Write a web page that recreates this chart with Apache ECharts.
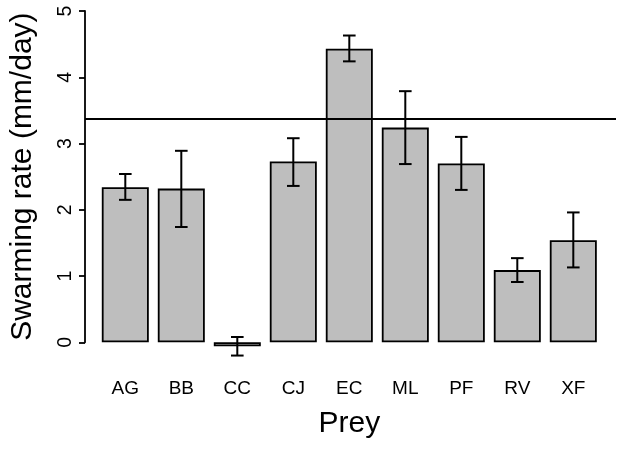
<!DOCTYPE html>
<html><head><meta charset="utf-8">
<script src="https://cdn.jsdelivr.net/npm/echarts@6/dist/echarts.min.js"></script>
<style>html,body{margin:0;padding:0;background:#fff}#c{width:624px;height:449px}</style>
</head><body><div id="c"></div>
<script>
const categories = ['AG','BB','CC','CJ','EC','ML','PF','RV','XF'];
const rates = [2.34, 2.32, -0.06, 2.73, 4.43, 3.24, 2.70, 1.09, 1.54];
const errLow = [2.15, 1.74, -0.20, 2.36, 4.24, 2.69, 2.30, 0.91, 1.13];
const errHigh = [2.54, 2.89, 0.08, 3.08, 4.63, 3.79, 3.10, 1.27, 1.96];
const refLine = 3.37;
const yTicks = [0, 1, 2, 3, 4, 5];

const font = 'Liberation Sans, Arial, Helvetica, sans-serif';
const chart = echarts.init(document.getElementById('c'), null, {renderer: 'canvas'});
const TOP = 11, BOTTOM = 106.7;
chart.setOption({
  animation: false,
  backgroundColor: '#fff',
  grid: [
    {left: 97.3, right: 22.7, top: TOP, bottom: BOTTOM},
    {left: 82, right: 8, top: TOP, bottom: BOTTOM}
  ],
  xAxis: [
    {type: 'category', gridIndex: 0, data: categories,
     axisLine: {show: false}, axisTick: {show: false},
     axisLabel: {fontFamily: font, fontSize: 19, color: '#000', margin: 37},
     name: 'Prey', nameLocation: 'middle', nameGap: 66,
     nameTextStyle: {fontFamily: font, fontSize: 30, color: '#000'}},
    {type: 'value', gridIndex: 1, min: 0, max: 1, show: false}
  ],
  yAxis: [
    {type: 'value', gridIndex: 0, min: yTicks[0], max: yTicks[yTicks.length-1], interval: 1, show: false},
    {type: 'value', gridIndex: 1, min: yTicks[0], max: yTicks[yTicks.length-1], interval: 1,
     axisLine: {show: true, lineStyle: {color: '#000', width: 1.8}},
     axisTick: {show: true, length: 6, lineStyle: {color: '#000', width: 1.8}},
     splitLine: {show: false},
     axisLabel: {fontFamily: font, fontSize: 19.5, color: '#000', rotate: 90, margin: 9},
     name: 'Swarming rate (mm/day)', nameLocation: 'middle', nameGap: 47, nameRotate: 90,
     nameTextStyle: {fontFamily: font, fontSize: 30, color: '#000'}}
  ],
  series: [
    {type: 'bar', xAxisIndex: 0, yAxisIndex: 0, data: rates, barWidth: 47, clip: false, z: 2,
     itemStyle: {color: '#bebebe', borderColor: '#000', borderWidth: 1.8}},
    {type: 'custom', xAxisIndex: 0, yAxisIndex: 0, clip: false, z: 5,
     data: categories.map((c, i) => [i, errLow[i], errHigh[i]]),
     renderItem: function (params, api) {
       const lo = api.coord([api.value(0), api.value(1)]);
       const hi = api.coord([api.value(0), api.value(2)]);
       const hw = 6.3;
       const st = {stroke: '#000', lineWidth: 2};
       return {type: 'group', children: [
         {type: 'line', shape: {x1: lo[0], y1: lo[1], x2: hi[0], y2: hi[1]}, style: st},
         {type: 'line', shape: {x1: lo[0]-hw, y1: lo[1], x2: lo[0]+hw, y2: lo[1]}, style: st},
         {type: 'line', shape: {x1: hi[0]-hw, y1: hi[1], x2: hi[0]+hw, y2: hi[1]}, style: st}
       ]};
     }},
    {type: 'line', xAxisIndex: 1, yAxisIndex: 1, data: [], silent: true, z: 4,
     markLine: {symbol: 'none', silent: true, label: {show: false},
       lineStyle: {color: '#000', width: 2, type: 'solid'},
       data: [{yAxis: refLine}]}}
  ]
});
</script></body></html>
